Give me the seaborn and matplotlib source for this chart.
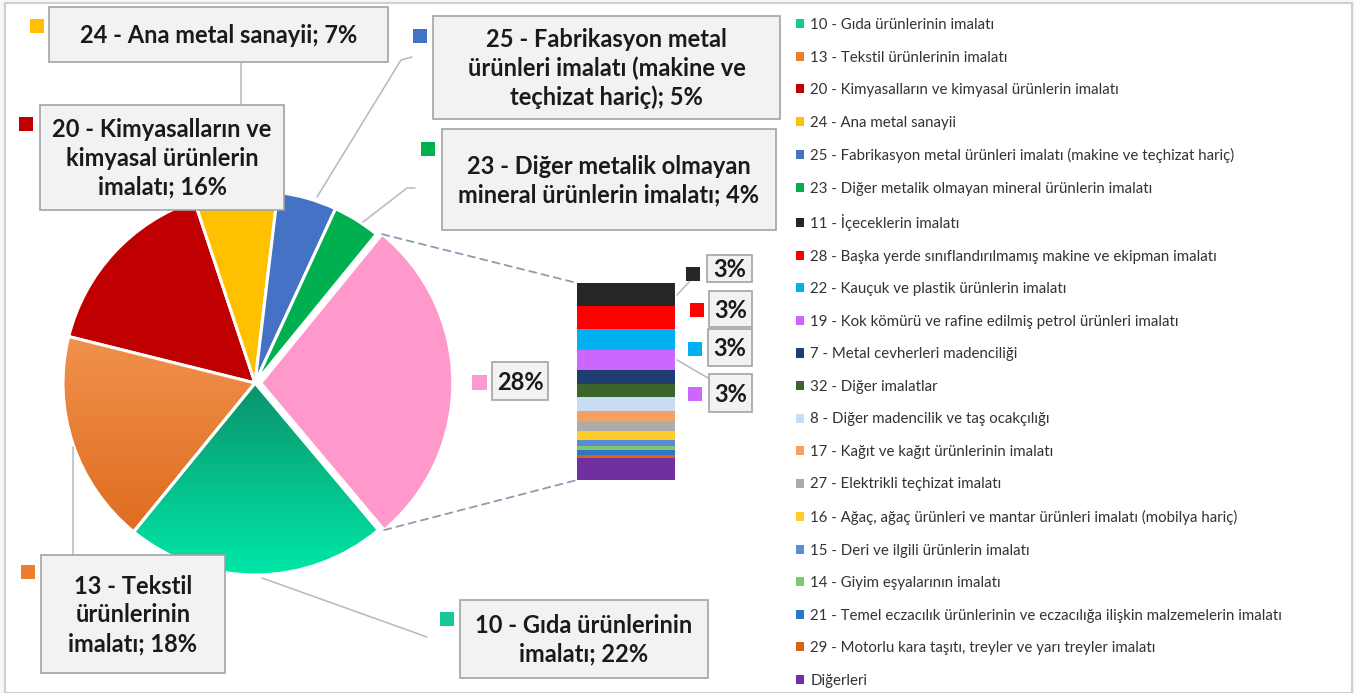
import textwrap
import numpy as np
import matplotlib
matplotlib.use("Agg")
import matplotlib.pyplot as plt
from matplotlib.patches import Rectangle, Wedge, Patch, ConnectionPatch
from matplotlib.colors import LinearSegmentedColormap
import seaborn as sns

# ---- data ----
pie_labels = ["10 - Gıda ürünlerinin imalatı",
              "13 - Tekstil ürünlerinin imalatı",
              "20 - Kimyasalların ve kimyasal ürünlerin imalatı",
              "24 - Ana metal sanayii",
              "25 - Fabrikasyon metal ürünleri imalatı (makine ve teçhizat hariç)",
              "23 - Diğer metalik olmayan mineral ürünlerin imalatı"]
pie_values = [22, 18, 16, 7, 5, 4]
pie_colors = ["#14C996", "#EE7D31", "#C00000", "#FFC000", "#4472C4", "#00B050"]
other_color = "#FF99CC"

bar_labels = ["11 - İçeceklerin imalatı",
              "28 - Başka yerde sınıflandırılmamış makine ve ekipman imalatı",
              "22 - Kauçuk ve plastik ürünlerin imalatı",
              "19 - Kok kömürü ve rafine edilmiş petrol ürünleri imalatı",
              "7 - Metal cevherleri madenciliği",
              "32 - Diğer imalatlar",
              "8 - Diğer madencilik ve taş ocakçılığı",
              "17 - Kağıt ve kağıt ürünlerinin imalatı",
              "27 - Elektrikli teçhizat imalatı",
              "16 - Ağaç, ağaç ürünleri ve mantar ürünleri imalatı (mobilya hariç)",
              "15 - Deri ve ilgili ürünlerin imalatı",
              "14 - Giyim eşyalarının imalatı",
              "21 - Temel eczacılık ürünlerinin ve eczacılığa ilişkin malzemelerin imalatı",
              "29 - Motorlu kara taşıtı, treyler ve yarı treyler imalatı",
              "Diğerleri"]
bar_values = [3.3, 3.2, 3.0, 2.9, 1.9, 1.9, 2.0, 1.6, 1.2, 1.3, 0.9, 0.6, 0.6, 0.5, 3.1]
bar_colors = ["#262626", "#FF0000", "#00B0F0", "#CC66FF", "#203D72", "#3B6629",
              "#C9DCF2", "#F5A062", "#ABABAB", "#FFCD28", "#5B8BD5", "#7CC870",
              "#2E75C6", "#D9621A", "#7030A0"]

# ---- figure ----
sns.set_theme(style="white")
plt.rcParams["font.family"] = ["Lato", "DejaVu Sans"]

W, H = 1355, 693
fig = plt.figure(figsize=(W / 100, H / 100), dpi=100)
fig.patch.set_facecolor("#F7F7F3")
fig.add_artist(Rectangle((5 / W, 0), (1352 - 5) / W, (H - 3) / H, transform=fig.transFigure,
                         facecolor="white", edgecolor="#CFCFCF", lw=1.5, zorder=-5))


def frac(x0, y0, w, h):
    return [x0 / W, 1 - (y0 + h) / H, w / W, h / H]


# pie
cx, cy, R, half = 255, 383, 192, 215
ax_pie = fig.add_axes(frac(cx - half, cy - half, 2 * half, 2 * half))
vals = pie_values + [sum(bar_values)]
wedges, _ = ax_pie.pie(vals, colors=pie_colors + [other_color], startangle=-50,
                       counterclock=False, explode=[0] * 6 + [0.03],
                       wedgeprops=dict(edgecolor="white", linewidth=2.2))
lim = half / R
ax_pie.set_aspect("equal")
ax_pie.axis("off")

# gradient fill on the two big slices
grads = {0: ("#0C8E68", "#00E8A8", (-1, 1, -1.0, 0.05)),
         1: ("#F2934F", "#DD6A1C", (-1, 1, -0.85, 0.3))}
for i, (c_top, c_bot, ext) in grads.items():
    cmap = LinearSegmentedColormap.from_list("g%d" % i, [c_top, c_bot])
    im = ax_pie.imshow(np.linspace(0, 1, 256).reshape(-1, 1), cmap=cmap, aspect="auto",
                       extent=ext, origin="upper", zorder=1.5)
    im.set_clip_path(wedges[i])
    w = wedges[i]
    ax_pie.add_patch(Wedge(w.center, w.r, w.theta1, w.theta2, facecolor="none",
                           edgecolor="white", lw=2.2, zorder=2))
ax_pie.set_xlim(-lim, lim)
ax_pie.set_ylim(-lim, lim)

# stacked bar for the "other" slice
ax_bar = fig.add_axes(frac(577, 283, 98, 197))
bottom = 0
for v, c in zip(bar_values[::-1], bar_colors[::-1]):
    ax_bar.bar(0, v, bottom=bottom, width=1, color=c, linewidth=0)
    bottom += v
ax_bar.set_xlim(-0.5, 0.5)
ax_bar.set_ylim(0, sum(bar_values))
ax_bar.axis("off")

# dashed connectors
pw = wedges[6]
pts = []
for t in (pw.theta1, pw.theta2):
    pts.append((pw.center[0] + pw.r * np.cos(np.radians(t)),
                pw.center[1] + pw.r * np.sin(np.radians(t))))
pts.sort(key=lambda p: p[1])
for p, yb in ((pts[1], 1), (pts[0], 0)):
    con = ConnectionPatch(xyA=p, coordsA=ax_pie.transData, xyB=(0, yb),
                          coordsB=ax_bar.transAxes, color="#8E9BB0", lw=1.3,
                          linestyle=(0, (4, 3)))
    fig.add_artist(con)

# overlay for callouts (pixel coordinates)
ov = fig.add_axes([0, 0, 1, 1], zorder=5)
ov.set_xlim(0, W)
ov.set_ylim(H, 0)
ov.axis("off")
ov.patch.set_alpha(0)

lc = "#B4B8BF"
leaders = [[(241, 62), (241, 200)],
           [(412, 57), (401, 60), (317, 197)],
           [(415, 188), (407, 188), (363, 222)],
           [(73, 447), (73, 555)],
           [(262, 578), (427, 637)],
           [(677, 295), (690, 281)],
           [(677, 360), (708, 378)]]
for seg in leaders:
    xs, ys = zip(*seg)
    ov.plot(xs, ys, color=lc, lw=1.1, zorder=1)

box_fc, box_ec = "#F2F2F2", "#A3A3A3"
fs_box = 17
# (box x0, y0, x1, y1), wrap width, key square (x, y)
boxes = [((49, 7, 388, 62), 40, (30, 19)),
         ((433, 16, 780, 119), 27, (413, 29)),
         ((40, 105, 284, 210), 21, (19, 117)),
         ((442, 129, 776, 230), 29, (421, 142)),
         ((41, 555, 225, 673), 12, (21, 565)),
         ((460, 600, 708, 678), 21, (440, 612))]
box_idx = [3, 4, 2, 5, 1, 0]
for (b, width, sq), i in zip(boxes, box_idx):
    txt = textwrap.fill("%s; %d%%" % (pie_labels[i], pie_values[i]), width=width,
                        break_on_hyphens=False)
    ov.add_patch(Rectangle((b[0], b[1]), b[2] - b[0], b[3] - b[1], facecolor=box_fc,
                           edgecolor=box_ec, lw=1.2, zorder=3))
    ov.text((b[0] + b[2]) / 2, (b[1] + b[3]) / 2 + 1, txt, ha="center", va="center",
            multialignment="center", fontsize=fs_box, fontweight="bold",
            color="#1A1A1A", linespacing=1.3, zorder=4)
    ov.add_patch(Rectangle(sq, 14, 14, facecolor=pie_colors[i], lw=0, zorder=4))

# 28% label
ov.add_patch(Rectangle((492, 362), 56, 38, facecolor=box_fc, edgecolor=box_ec, lw=1.2, zorder=3))
ov.text(520, 382, "%d%%" % round(sum(bar_values)), ha="center", va="center", fontsize=fs_box,
        fontweight="bold", color="#1A1A1A", zorder=4)
ov.add_patch(Rectangle((472, 375), 15, 15, facecolor=other_color, lw=0, zorder=4))

# small bar labels
small = [((707, 255, 752, 282), (686, 267)),
         ((709, 291, 752, 327), (690, 303)),
         ((708, 329, 752, 366), (688, 342)),
         ((709, 374, 752, 412), (688, 387))]
for k, (b, sq) in enumerate(small):
    ov.add_patch(Rectangle((b[0], b[1]), b[2] - b[0], b[3] - b[1], facecolor=box_fc,
                           edgecolor=box_ec, lw=1.2, zorder=3))
    ov.text((b[0] + b[2]) / 2, (b[1] + b[3]) / 2 + 1, "%.0f%%" % bar_values[k], ha="center",
            va="center", fontsize=fs_box, fontweight="bold", color="#1A1A1A", zorder=4)
    ov.add_patch(Rectangle(sq, 14, 14, facecolor=bar_colors[k], lw=0, zorder=4))

# legend
handles = [Patch(facecolor=c, edgecolor="none") for c in pie_colors + bar_colors]
leg = fig.legend(handles, pie_labels + bar_labels, loc="upper left",
                 bbox_to_anchor=(790 / W, 1 - 12 / H), frameon=False, fontsize=10.8,
                 handlelength=0.55, handleheight=0.55, handletextpad=0.4,
                 labelspacing=1.235, borderaxespad=0)
for t in leg.get_texts():
    t.set_color("#333333")

fig.savefig("out.png", dpi=100, facecolor=fig.get_facecolor())
